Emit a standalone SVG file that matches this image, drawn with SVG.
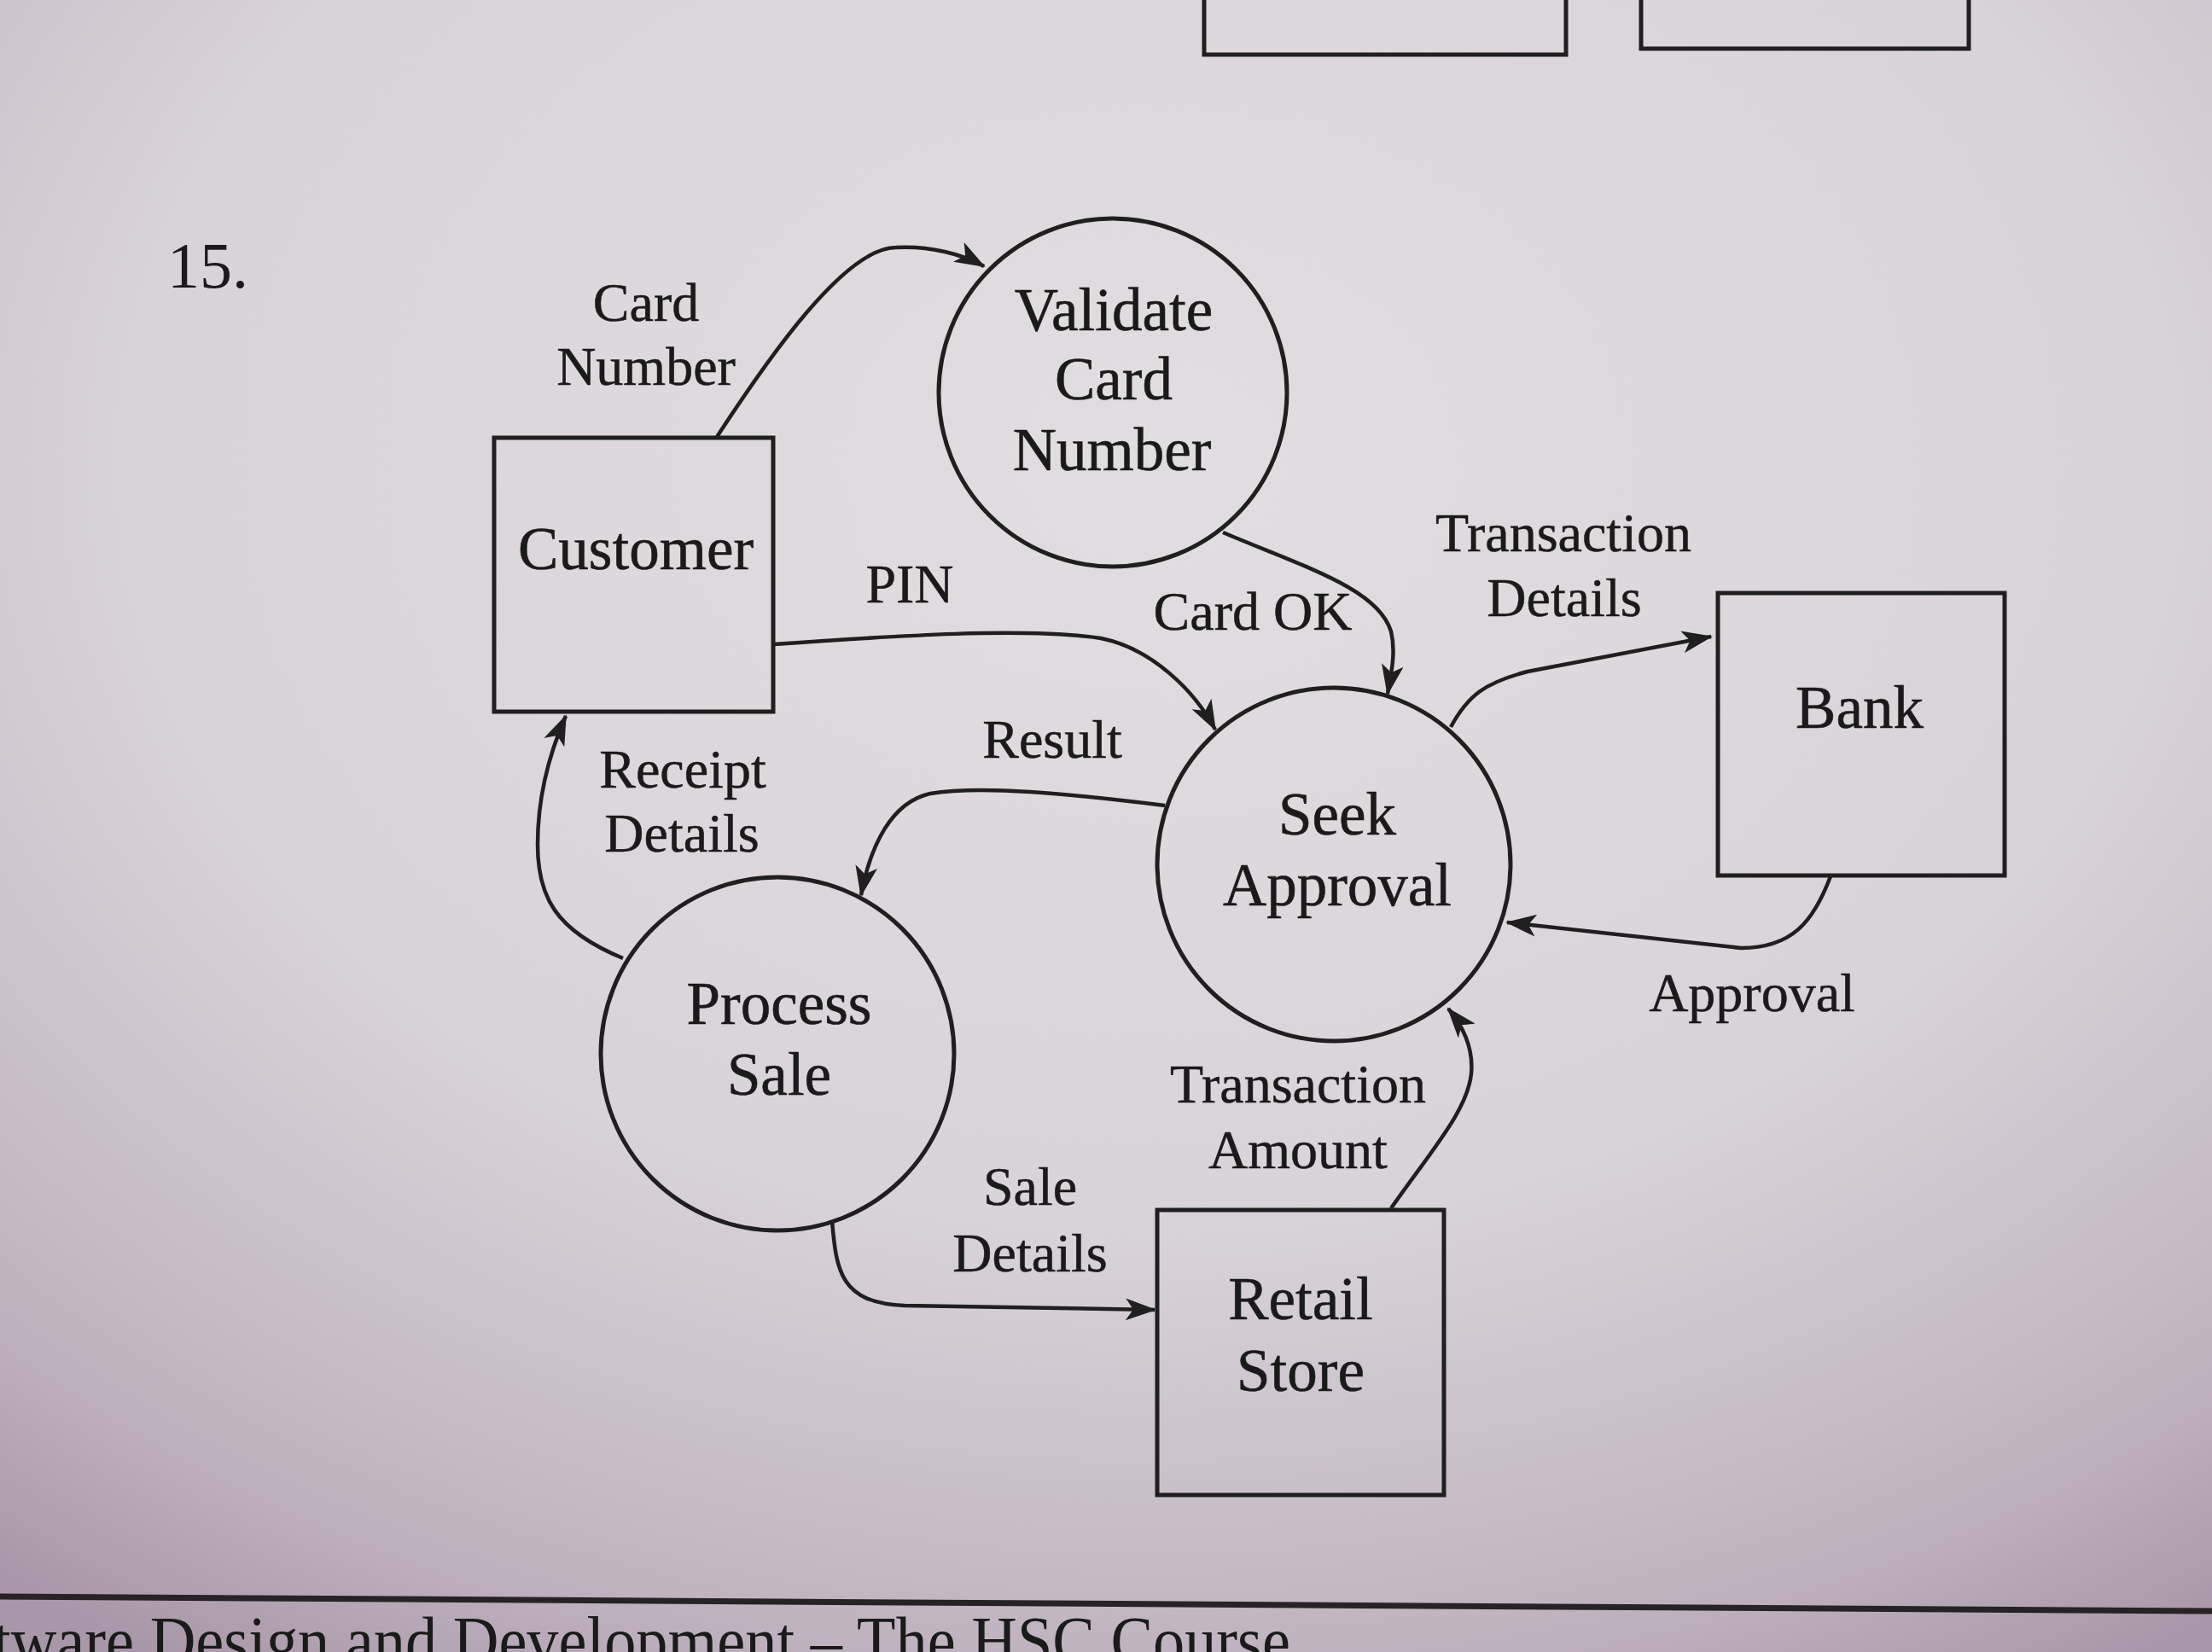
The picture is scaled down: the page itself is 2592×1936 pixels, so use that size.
<svg xmlns="http://www.w3.org/2000/svg" width="2592" height="1936" viewBox="0 0 2592 1936">
<defs>
<radialGradient id="paper" cx="52%" cy="28%" r="85%">
<stop offset="0" stop-color="#e1dee1"/>
<stop offset="0.55" stop-color="#d8d3d8"/>
<stop offset="0.85" stop-color="#c0b3c0"/>
<stop offset="1" stop-color="#a897a8"/>
</radialGradient>
<marker id="arrow" viewBox="0 0 36 26" refX="34" refY="13" markerWidth="36" markerHeight="26" markerUnits="userSpaceOnUse" orient="auto">
<path d="M0,0 L36,13 L0,26 L9,13 z" fill="#1f1f1f"/>
</marker>
<style>
.shape{fill:none;stroke:#1f1f1f;stroke-width:5}
.flow{fill:none;stroke:#1f1f1f;stroke-width:4.5;marker-end:url(#arrow)}
.node{font-family:"Liberation Serif","Times New Roman",serif;font-size:71px;fill:#1a1a1a;text-anchor:middle;stroke:#1a1a1a;stroke-width:0.6}
.label{font-family:"Liberation Serif","Times New Roman",serif;font-size:64px;fill:#1a1a1a;text-anchor:middle;stroke:#1a1a1a;stroke-width:0.5}
</style>
</defs>
<rect x="0" y="0" width="2592" height="1936" fill="url(#paper)"/>

<g id="page-decor">
<rect class="shape" x="1411" y="-20" width="424" height="84"/>
<rect class="shape" x="1923" y="-20" width="384" height="77"/>
<text x="196" y="337" font-family="Liberation Serif, serif" font-size="76" fill="#1a1a1a">15.</text>
<line x1="0" y1="1871" x2="2592" y2="1888" stroke="#262226" stroke-width="7"/>
<text x="-8" y="1950" font-family="Liberation Serif, serif" font-size="80" fill="#1a1a1a" textLength="1520" lengthAdjust="spacingAndGlyphs">tware Design and Development – The HSC Course</text>
</g>

<g id="connectors">
<g id="flow-card-number">
<path class="flow" d="M840,512 C900,420 990,290 1050,290 C1090,288 1128,298 1153,312"/>
<text class="label" x="757" y="376">Card</text>
<text class="label" x="757" y="451">Number</text>
</g>
<g id="flow-card-ok">
<path class="flow" d="M1433,624 C1530,665 1615,690 1630,740 C1636,765 1630,790 1626,813"/>
<text class="label" x="1468" y="738">Card OK</text>
</g>
<g id="flow-pin">
<path class="flow" d="M907,755 C1050,745 1200,735 1290,748 C1350,760 1400,810 1424,855"/>
<text class="label" x="1066" y="706">PIN</text>
</g>
<g id="flow-transaction-details">
<path class="flow" d="M1700,852 C1720,815 1740,800 1790,787 L2005,746"/>
<text class="label" x="1832" y="646">Transaction</text>
<text class="label" x="1833" y="722">Details</text>
</g>
<g id="flow-approval">
<path class="flow" d="M2145,1027 C2125,1080 2100,1111 2040,1111 L1766,1081"/>
<text class="label" x="2053" y="1185">Approval</text>
</g>
<g id="flow-transaction-amount">
<path class="flow" d="M1630,1416 C1680,1345 1720,1300 1724,1258 C1727,1225 1712,1200 1697,1182"/>
<text class="label" x="1521" y="1292">Transaction</text>
<text class="label" x="1521" y="1369">Amount</text>
</g>
<g id="flow-result">
<path class="flow" d="M1365,944 C1250,930 1150,920 1090,930 C1045,940 1020,990 1009,1049"/>
<text class="label" x="1233" y="888">Result</text>
</g>
<g id="flow-receipt-details">
<path class="flow" d="M730,1123 C650,1090 630,1050 630,990 C630,930 645,880 663,839"/>
<text class="label" x="800" y="923">Receipt</text>
<text class="label" x="799" y="998">Details</text>
</g>
<g id="flow-sale-details">
<path class="flow" d="M975,1431 C980,1490 985,1527 1060,1530 L1353,1535"/>
<text class="label" x="1207" y="1412">Sale</text>
<text class="label" x="1207" y="1490">Details</text>
</g>
</g>

<g id="customer">
<rect class="shape" x="579" y="513" width="327" height="321"/>
<text class="node" x="745" y="667">Customer</text>
</g>
<g id="validate-card-number">
<circle class="shape" cx="1304" cy="460" r="204"/>
<text class="node" x="1305" y="387">Validate</text>
<text class="node" x="1305" y="468">Card</text>
<text class="node" x="1303" y="551">Number</text>
</g>
<g id="seek-approval">
<circle class="shape" cx="1563" cy="1013" r="207"/>
<text class="node" x="1567" y="978">Seek</text>
<text class="node" x="1567" y="1061">Approval</text>
</g>
<g id="bank">
<rect class="shape" x="2013" y="695" width="336" height="331"/>
<text class="node" x="2179" y="853">Bank</text>
</g>
<g id="process-sale">
<circle class="shape" cx="911" cy="1235" r="207"/>
<text class="node" x="913" y="1200">Process</text>
<text class="node" x="913" y="1283">Sale</text>
</g>
<g id="retail-store">
<rect class="shape" x="1356" y="1418" width="336" height="334"/>
<text class="node" x="1524" y="1546">Retail</text>
<text class="node" x="1524" y="1630">Store</text>
</g>
</svg>
